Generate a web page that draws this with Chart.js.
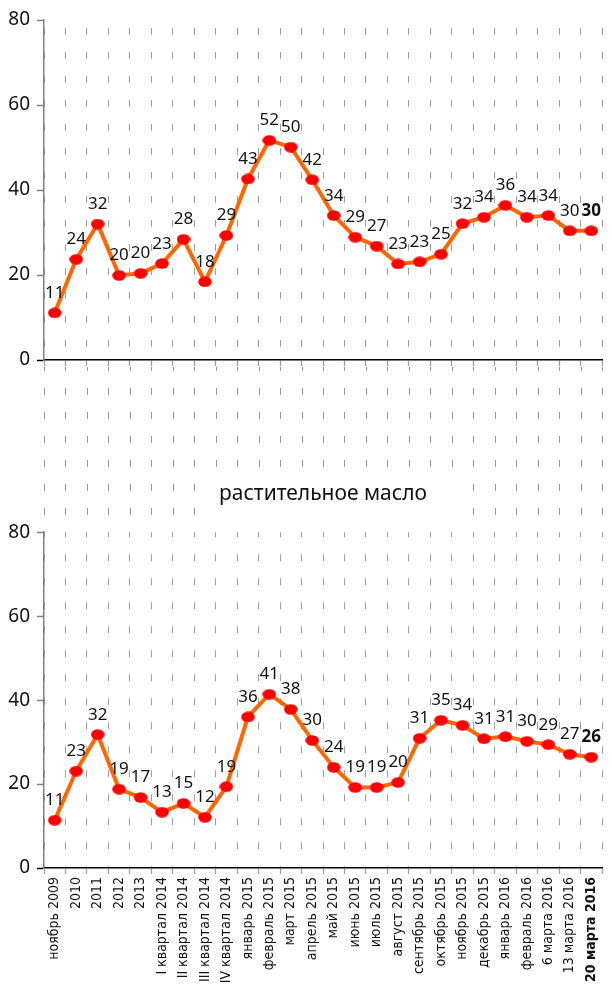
<!DOCTYPE html>
<html>
<head>
<meta charset="utf-8">
<script src="https://cdn.jsdelivr.net/npm/chart.js@4/dist/chart.umd.min.js"></script>
<style>
  body { margin: 0; background: #fff; }
  #top { position: absolute; left: 0; top: 0; }
  #bottom { position: absolute; left: 0; top: 470px; }
  #gap { position: absolute; left: 0; top: 361px; z-index: 2; pointer-events: none; }
</style>
</head>
<body>
<canvas id="top" width="612" height="470"></canvas>
<canvas id="bottom" width="612" height="520"></canvas>
<canvas id="gap" width="612" height="171"></canvas>
<script>
var labels = ['ноябрь 2009', '2010', '2011', '2012', '2013',
  'I квартал 2014', 'II квартал 2014', 'III квартал 2014', 'IV квартал 2014',
  'январь 2015', 'февраль 2015', 'март 2015', 'апрель 2015', 'май 2015',
  'июнь 2015', 'июль 2015', 'август 2015', 'сентябрь 2015', 'октябрь 2015',
  'ноябрь 2015', 'декабрь 2015', 'январь 2016', 'февраль 2016',
  '6 марта 2016', '13 марта 2016', '20 марта 2016'];

// верхний график (заголовок за кадром)
var topValues = [11.1, 23.7, 32.0, 19.9, 20.4, 22.7, 28.4, 18.4, 29.3, 42.6, 51.7, 50.1, 42.4,
  34.0, 28.9, 26.8, 22.6, 23.1, 24.9, 32.1, 33.6, 36.4, 33.6, 34.0, 30.4, 30.4];

// растительное масло
var oilValues = [11.4, 23.1, 31.8, 18.8, 16.8, 13.3, 15.4, 12.1, 19.4, 36.0, 41.4, 37.8, 30.4,
  24.0, 19.2, 19.2, 20.4, 30.9, 35.2, 34.0, 30.8, 31.3, 30.2, 29.4, 27.1, 26.4];

var yTicks = [0, 20, 40, 60, 80];

// красные точки чуть вытянуты по горизонтали
var dot = document.createElement('canvas');
dot.width = 14; dot.height = 11;
var dctx = dot.getContext('2d');
dctx.fillStyle = '#ff0000';
dctx.beginPath();
dctx.ellipse(7, 5.5, 6.8, 5.2, 0, 0, Math.PI * 2);
dctx.fill();

var valueLabels = {
  id: 'valueLabels',
  afterDatasetsDraw: function(chart) {
    var ctx = chart.ctx;
    var pts = chart.getDatasetMeta(0).data;
    var data = chart.data.datasets[0].data;
    ctx.save();
    ctx.fillStyle = '#111';
    ctx.textAlign = 'center';
    ctx.textBaseline = 'alphabetic';
    for (var i = 0; i < pts.length; i++) {
      ctx.font = (i == data.length - 1 ? 'bold ' : '') + '17px "Noto Sans"';
      ctx.fillText(Math.round(data[i]), pts[i].x, pts[i].y - 15);
    }
    ctx.restore();
  }
};

function makeOptions(isBottom) {
  return {
    responsive: false,
    animation: false,
    layout: { padding: { top: isBottom ? 0 : 20, right: 1, left: 0, bottom: 0 } },
    plugins: {
      legend: { display: false },
      tooltip: { enabled: false },
      title: {
        display: isBottom,
        text: 'растительное масло',
        fullSize: false,
        color: '#111',
        font: { family: '"Noto Sans"', size: 21, weight: 'normal' },
        padding: { top: 11, bottom: 26 }
      }
    },
    scales: {
      x: {
        offset: true,
        grid: {
          offset: true,
          color: '#a0a0a0',
          lineWidth: 1,
          drawTicks: true,
          tickLength: 6,
          tickColor: '#a0a0a0',
          tickBorderDash: [],
          tickWidth: 1.3
        },
        border: { color: '#000', width: 1.5, dash: [7, 17], dashOffset: isBottom ? 2 : 16 },
        ticks: {
          display: isBottom,
          autoSkip: false,
          minRotation: 90,
          maxRotation: 90,
          padding: 3,
          color: '#111',
          font: function(c) {
            return { family: '"DejaVu Sans Condensed"', size: 14,
              weight: c.index == labels.length - 1 ? 'bold' : 'normal' };
          }
        },
        afterFit: function(scale) { scale.height = isBottom ? 122 : 110; }
      },
      y: {
        min: 0,
        max: 80,
        afterBuildTicks: function(scale) {
          scale.ticks = yTicks.map(function(v) { return { value: v }; });
        },
        grid: {
          drawOnChartArea: false,
          drawTicks: true,
          tickLength: 7,
          tickColor: function(c) { return c.tick && c.tick.value == 0 ? '#000' : '#808080'; },
          tickWidth: 1.5
        },
        border: { color: '#808080', width: 1.5 },
        ticks: {
          padding: 7,
          color: '#111',
          font: { family: '"Noto Sans"', size: 19 }
        },
        afterFit: function(scale) { scale.width = 44; }
      }
    }
  };
}

function makeChart(id, values, isBottom) {
  return new Chart(document.getElementById(id), {
    type: 'line',
    data: {
      labels: labels,
      datasets: [{
        data: values,
        borderColor: '#ff6600',
        borderWidth: 4,
        tension: 0,
        pointStyle: dot,
        pointRadius: 6,
        clip: false
      }]
    },
    options: makeOptions(isBottom),
    plugins: [valueLabels]
  });
}

var topChart = makeChart('top', topValues, false);
var oilChart = makeChart('bottom', oilValues, true);

// пунктир сетки продолжается в промежутке между графиками,
// колонки берутся из области верхнего графика
function drawGap() {
  var cv = document.getElementById('gap');
  var ctx = cv.getContext('2d');
  var offY = 361;
  var area = topChart.chartArea;
  var n = labels.length;
  var step = (area.right - area.left) / n;
  var titleLeft = 195, titleRight = 455, titleTop = 476;
  ctx.clearRect(0, 0, cv.width, cv.height);
  ctx.strokeStyle = '#999999';
  ctx.lineWidth = 1;
  ctx.setLineDash([7, 17]);
  ctx.lineDashOffset = 16;
  for (var k = 0; k <= n; k++) {
    var px = Math.round(area.left + k * step) + 0.5;
    var endY = (px > titleLeft && px < titleRight) ? titleTop : 530;
    ctx.save();
    ctx.beginPath();
    ctx.rect(0, 367 - offY, cv.width, endY - 367);
    ctx.clip();
    ctx.beginPath();
    ctx.moveTo(px, area.top - offY);
    ctx.lineTo(px, 540 - offY);
    ctx.stroke();
    ctx.restore();
  }
}
drawGap();
</script>
</body>
</html>
